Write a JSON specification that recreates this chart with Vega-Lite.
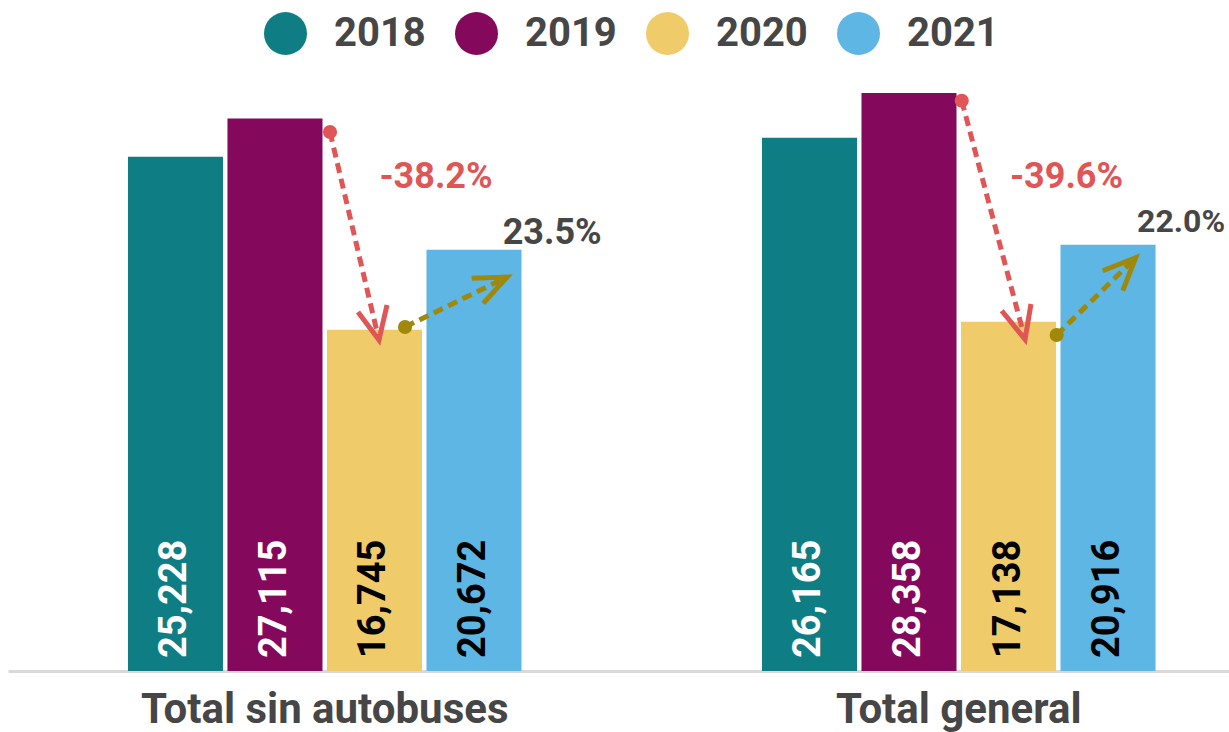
{
  "$schema": "https://vega.github.io/schema/vega-lite/v6.json",
  "width": 1221,
  "height": 591,
  "autosize": {"type": "none"},
  "padding": {"left": 8, "top": 80, "right": 0, "bottom": 61},
  "config": {
    "font": "Roboto",
    "view": {"stroke": null},
    "axis": {"grid": false}
  },
  "datasets": {
    "barras": [
      {"grupo": "Total sin autobuses", "anio": "2018", "valor": 25228},
      {"grupo": "Total sin autobuses", "anio": "2019", "valor": 27115},
      {"grupo": "Total sin autobuses", "anio": "2020", "valor": 16745},
      {"grupo": "Total sin autobuses", "anio": "2021", "valor": 20672},
      {"grupo": "Total general", "anio": "2018", "valor": 26165},
      {"grupo": "Total general", "anio": "2019", "valor": 28358},
      {"grupo": "Total general", "anio": "2020", "valor": 17138},
      {"grupo": "Total general", "anio": "2021", "valor": 20916}
    ],
    "flechas": [
      {"id": "a1", "grupo": "Total sin autobuses", "tipo": "baja", "pos": 2019.553, "valor": 26448, "orden": 0},
      {"id": "a1", "grupo": "Total sin autobuses", "tipo": "baja", "pos": 2020.045, "valor": 16241, "orden": 1},
      {"id": "a2", "grupo": "Total sin autobuses", "tipo": "alza", "pos": 2020.307, "valor": 16879, "orden": 0},
      {"id": "a2", "grupo": "Total sin autobuses", "tipo": "alza", "pos": 2021.332, "valor": 19333, "orden": 1},
      {"id": "a3", "grupo": "Total general", "tipo": "baja", "pos": 2019.530, "valor": 27983, "orden": 0},
      {"id": "a3", "grupo": "Total general", "tipo": "baja", "pos": 2020.166, "valor": 16276, "orden": 1},
      {"id": "a4", "grupo": "Total general", "tipo": "alza", "pos": 2020.484, "valor": 16487, "orden": 0},
      {"id": "a4", "grupo": "Total general", "tipo": "alza", "pos": 2021.278, "valor": 20280, "orden": 1}
    ],
    "puntas": [
      {"id": "h1", "grupo": "Total sin autobuses", "tipo": "baja", "pos": 2019.834, "valor": 17615, "orden": 0},
      {"id": "h1", "grupo": "Total sin autobuses", "tipo": "baja", "pos": 2020.045, "valor": 16241, "orden": 1},
      {"id": "h1", "grupo": "Total sin autobuses", "tipo": "baja", "pos": 2020.126, "valor": 17959, "orden": 2},
      {"id": "h2", "grupo": "Total sin autobuses", "tipo": "alza", "pos": 2020.977, "valor": 19269, "orden": 0},
      {"id": "h2", "grupo": "Total sin autobuses", "tipo": "alza", "pos": 2021.332, "valor": 19333, "orden": 1},
      {"id": "h2", "grupo": "Total sin autobuses", "tipo": "alza", "pos": 2021.093, "valor": 18042, "orden": 2},
      {"id": "h3", "grupo": "Total general", "tipo": "baja", "pos": 2019.932, "valor": 17679, "orden": 0},
      {"id": "h3", "grupo": "Total general", "tipo": "baja", "pos": 2020.166, "valor": 16276, "orden": 1},
      {"id": "h3", "grupo": "Total general", "tipo": "baja", "pos": 2020.226, "valor": 18008, "orden": 2},
      {"id": "h4", "grupo": "Total general", "tipo": "alza", "pos": 2020.947, "valor": 19642, "orden": 0},
      {"id": "h4", "grupo": "Total general", "tipo": "alza", "pos": 2021.278, "valor": 20280, "orden": 1},
      {"id": "h4", "grupo": "Total general", "tipo": "alza", "pos": 2021.148, "valor": 18661, "orden": 2}
    ],
    "etiquetas": [
      {"grupo": "Total sin autobuses", "tipo": "baja", "pos": 2020.618, "valor": 23700, "etiqueta": "-38.2%"},
      {"grupo": "Total sin autobuses", "tipo": "alza", "pos": 2021.786, "valor": 20952, "etiqueta": "23.5%"},
      {"grupo": "Total general", "tipo": "baja", "pos": 2020.583, "valor": 23700, "etiqueta": "-39.6%"},
      {"grupo": "Total general", "tipo": "alza", "pos": 2021.734, "valor": 21526, "etiqueta": "22.0%"}
    ]
  },
  "resolve": {"scale": {"xOffset": "independent", "color": "independent"}},
  "layer": [
    {
      "data": {"name": "barras"},
      "mark": {"type": "bar"},
      "encoding": {
        "x": {
          "field": "grupo", "type": "nominal",
          "sort": ["Total sin autobuses", "Total general"],
          "scale": {"type": "band", "paddingInner": 0.3722, "paddingOuter": 0.149, "align": 0.623},
          "axis": {
            "title": null, "ticks": false, "labelAngle": 0, "labelLimit": 0,
            "labelFontSize": 42, "labelFontWeight": "bold", "labelColor": "#464646",
            "labelPadding": 18, "domainColor": "#D9D9D9", "domainWidth": 3
          }
        },
        "xOffset": {
          "field": "anio", "type": "nominal",
          "scale": {"type": "band", "paddingInner": 0.045, "paddingOuter": 0.0225}
        },
        "y": {
          "field": "valor", "type": "quantitative",
          "scale": {"domain": [0, 29000], "nice": false},
          "axis": null
        },
        "color": {
          "field": "anio", "type": "nominal",
          "scale": {"domain": ["2018", "2019", "2020", "2021"], "range": ["#0E7E84", "#84085C", "#EFCB6A", "#5EB6E5"]},
          "legend": {
            "orient": "none", "legendX": 256, "legendY": -68, "direction": "horizontal",
            "title": null, "symbolType": "circle", "symbolSize": 1849, "symbolStrokeWidth": 0,
            "labelFontSize": 40, "labelFontWeight": "bold", "labelColor": "#464646",
            "labelOffset": 27, "columnPadding": 29, "padding": 0
          }
        }
      }
    },
    {
      "data": {"name": "barras"},
      "mark": {"type": "text", "angle": 270, "align": "left", "baseline": "middle", "dx": 13, "fontSize": 38, "fontWeight": "bold"},
      "encoding": {
        "x": {"field": "grupo", "type": "nominal", "sort": ["Total sin autobuses", "Total general"]},
        "xOffset": {
          "field": "anio", "type": "nominal",
          "scale": {"type": "band", "paddingInner": 0.045, "paddingOuter": 0.0225}
        },
        "y": {"datum": 0, "type": "quantitative"},
        "text": {"field": "valor", "type": "quantitative", "format": ","},
        "color": {
          "condition": {"test": "datum.anio === '2020' || datum.anio === '2021'", "value": "#000000"},
          "value": "#FFFFFF"
        }
      }
    },
    {
      "data": {"name": "flechas"},
      "mark": {"type": "line", "strokeWidth": 5, "strokeDash": [10, 6]},
      "encoding": {
        "x": {"field": "grupo", "type": "nominal", "sort": ["Total sin autobuses", "Total general"]},
        "xOffset": {"field": "pos", "type": "quantitative", "scale": {"domain": [2017.5, 2021.5], "nice": false, "zero": false}},
        "y": {"field": "valor", "type": "quantitative"},
        "detail": {"field": "id"},
        "order": {"field": "orden"},
        "color": {"field": "tipo", "type": "nominal", "scale": {"domain": ["baja", "alza"], "range": ["#E05555", "#A0880A"]}, "legend": null}
      }
    },
    {
      "data": {"name": "puntas"},
      "mark": {"type": "line", "strokeWidth": 5},
      "encoding": {
        "x": {"field": "grupo", "type": "nominal", "sort": ["Total sin autobuses", "Total general"]},
        "xOffset": {"field": "pos", "type": "quantitative", "scale": {"domain": [2017.5, 2021.5], "nice": false, "zero": false}},
        "y": {"field": "valor", "type": "quantitative"},
        "detail": {"field": "id"},
        "order": {"field": "orden"},
        "color": {"field": "tipo", "type": "nominal", "scale": {"domain": ["baja", "alza"], "range": ["#E05555", "#A0880A"]}, "legend": null}
      }
    },
    {
      "data": {"name": "flechas"},
      "transform": [{"filter": "datum.orden === 0"}],
      "mark": {"type": "point", "filled": true, "opacity": 1, "size": 200, "shape": "circle"},
      "encoding": {
        "x": {"field": "grupo", "type": "nominal", "sort": ["Total sin autobuses", "Total general"]},
        "xOffset": {"field": "pos", "type": "quantitative", "scale": {"domain": [2017.5, 2021.5], "nice": false, "zero": false}},
        "y": {"field": "valor", "type": "quantitative"},
        "color": {"field": "tipo", "type": "nominal", "scale": {"domain": ["baja", "alza"], "range": ["#E05555", "#A0880A"]}, "legend": null}
      }
    },
    {
      "data": {"name": "etiquetas"},
      "mark": {"type": "text", "align": "center", "baseline": "alphabetic", "fontWeight": "bold"},
      "encoding": {
        "x": {"field": "grupo", "type": "nominal", "sort": ["Total sin autobuses", "Total general"]},
        "xOffset": {"field": "pos", "type": "quantitative", "scale": {"domain": [2017.5, 2021.5], "nice": false, "zero": false}},
        "y": {"field": "valor", "type": "quantitative"},
        "text": {"field": "etiqueta"},
        "size": {"condition": {"test": "datum.etiqueta === '22.0%'", "value": 32}, "value": 36},
        "color": {"condition": {"test": "datum.tipo === 'baja'", "value": "#E05555"}, "value": "#464646"}
      }
    }
  ]
}
